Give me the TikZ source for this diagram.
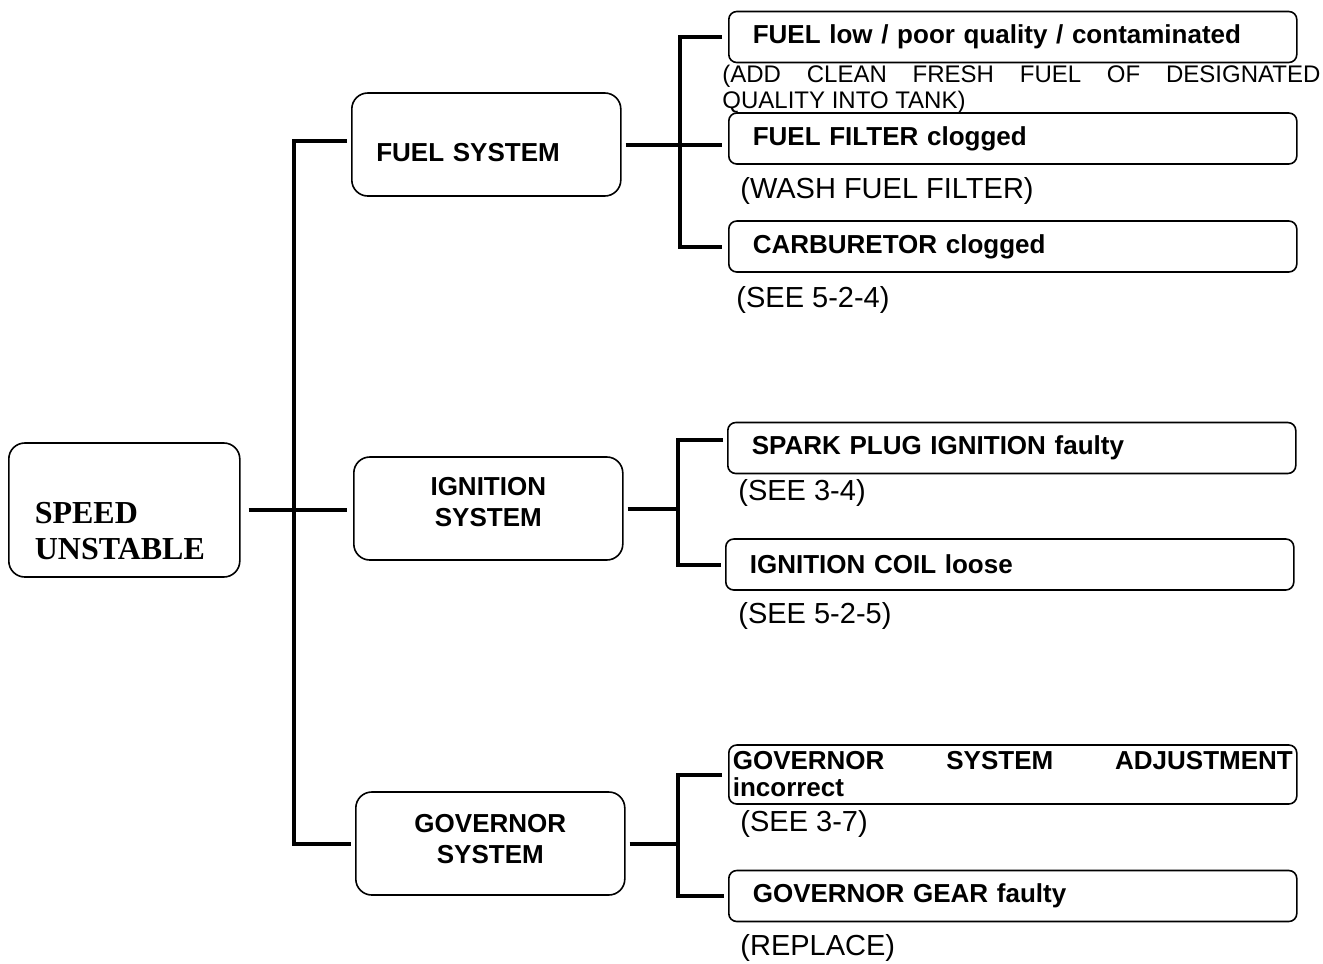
\documentclass[tikz,border=0pt]{standalone}
\usepackage{fontspec}
\setmainfont{Liberation Sans}
\newfontfamily\timesfont{Liberation Serif}
\usetikzlibrary{positioning, calc}

\tikzset{
	link/.style={line width=2pt},
	rootbox/.style={draw, line width=0.8pt, rounded corners=8pt, anchor=west, minimum width=115.5pt, minimum height=67pt, text width=89.5pt, inner xsep=13pt, align=left, font=\timesfont\bfseries\fontsize{16}{18}\selectfont},
	sysbox/.style={draw, line width=0.8pt, rounded corners=8pt, anchor=west, minimum width=134.5pt, minimum height=51.5pt, text width=110pt, inner xsep=12.25pt, align=center, font=\bfseries\fontsize{13}{15.5}\selectfont},
	causebox/.style={draw, line width=0.8pt, rounded corners=4pt, anchor=west, minimum height=25.5pt, text width=260pt, inner xsep=12pt, inner ysep=0pt, align=left, font=\bfseries\fontsize{13}{13.5}\selectfont},
	remedy/.style={anchor=west, inner sep=0pt, font=\fontsize{14.5}{16}\selectfont},
}

\begin{document}
\begin{tikzpicture}[x=0.5pt, y=-0.5pt]
		
		\useasboundingbox (0,0) rectangle (1323,964);
		
		% main fault and the three systems
		\node[rootbox, text height=32pt] (root) at (8,510) {SPEED\\UNSTABLE};
		\node[sysbox, align=left, text height=17pt] (fuel) at (351,144.5) {FUEL SYSTEM};
		\node[sysbox, text depth=22pt] (ign) at (353,508.5) {IGNITION\\SYSTEM};
		\node[sysbox, text depth=20.5pt] (gov) at (355,843.5) {GOVERNOR\\SYSTEM};
		
		% causes
		\node[causebox] (fuellow) at (728,37) {FUEL low / poor quality / contaminated};
		\node[causebox] (filter) at (728,138.5) {FUEL FILTER clogged};
		\node[causebox] (carb) at (728,246.5) {CARBURETOR clogged};
		\node[causebox] (plug) at (727,448) {SPARK PLUG IGNITION faulty};
		\node[causebox] (coil) at (725,564.5) {IGNITION COIL loose};
		\node[causebox, text width=280pt, inner xsep=2pt, align=justify, minimum height=29.5pt] (adjust) at (728,774.5) {GOVERNOR SYSTEM ADJUSTMENT\linebreak incorrect};
		\node[causebox] (gear) at (728,896) {GOVERNOR GEAR faulty};
		
		% remedies
		\node[anchor=north west, text width=299pt, inner sep=0pt, align=justify, font=\fontsize{12}{13}\selectfont] (fuelrem) at (722,65) {(ADD CLEAN FRESH FUEL OF DESIGNATED\linebreak QUALITY INTO TANK)};
		\node[remedy] (washrem) at (740,191) {(WASH FUEL FILTER)};
		\node[remedy] (carbrem) at (736,300) {(SEE 5-2-4)};
		\node[remedy] (plugrem) at (738,493) {(SEE 3-4)};
		\node[remedy] (coilrem) at (738,616) {(SEE 5-2-5)};
		\node[remedy] (adjrem) at (740,824) {(SEE 3-7)};
		\node[remedy] (gearrem) at (740,948) {(REPLACE)};
		
		% connectors
		\coordinate (mainbus) at (294,0);
		\coordinate (fuelbus) at (680,0);
		\coordinate (ignbus) at (678,0);
		\coordinate (govbus) at (678,0);
		
		\draw[link] ([shift={(8,0)}]root.east) -- ($(root.east -| ign.west)+(-6,0)$);
		\draw[link] ([shift={(-4,-4)}]fuel.west) -| (mainbus |- gov.west) -- ([shift={(-4,0)}]gov.west);
		
		\draw[link] ([shift={(4,0)}]fuel.east) -- ($(fuel.east -| filter.west)+(-6,0)$);
		\draw[link] ([shift={(-6,0)}]fuellow.west) -| (fuelbus |- carb.west) -- ([shift={(-6,0)}]carb.west);
		
		\draw[link] ([shift={(4,0)}]ign.east) -- (ign.east -| ignbus);
		\draw[link] ([shift={(-4,-8)}]plug.west) -| (ignbus |- coil.west) -- ([shift={(-4,0)}]coil.west);
		
		\draw[link] ([shift={(4,0)}]gov.east) -- (gov.east -| govbus);
		\draw[link] ([shift={(-6,0)}]adjust.west) -| (govbus |- gear.west) -- ([shift={(-4,0)}]gear.west);
		
\end{tikzpicture}
\end{document}
